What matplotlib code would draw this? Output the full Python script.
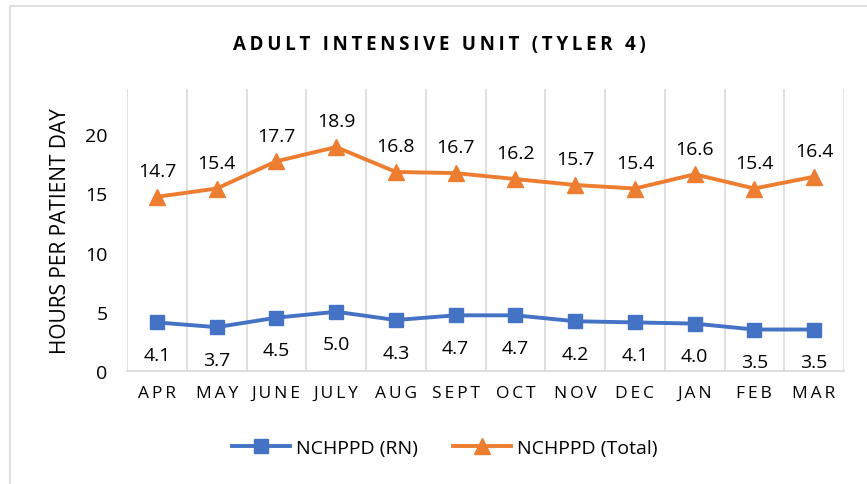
import matplotlib
matplotlib.use('Agg')
import matplotlib.pyplot as plt
from matplotlib.patches import Rectangle

# Data
months = ['APR', 'MAY', 'JUNE', 'JULY', 'AUG', 'SEPT', 'OCT', 'NOV', 'DEC', 'JAN', 'FEB', 'MAR']
rn = [4.1, 3.7, 4.5, 5.0, 4.3, 4.7, 4.7, 4.2, 4.1, 4.0, 3.5, 3.5]
total = [14.7, 15.4, 17.7, 18.9, 16.8, 16.7, 16.2, 15.7, 15.4, 16.6, 15.4, 16.4]

blue = '#4472C4'
orange = '#ED7D31'
grid_col = '#D9D9D9'

plt.rcParams['font.family'] = ['Open Sans', 'DejaVu Sans']


def spaced(s):
    return '\u2009'.join(s)


fig = plt.figure(figsize=(8.67, 4.85), dpi=100)
ax = fig.add_axes([127 / 867, 1 - 372 / 485, (844 - 127) / 867, (372 - 90) / 485])

# outer chart border
fig.patches.append(Rectangle((9.5 / 867, -0.1), 1.2, 1 - 7 / 485 + 0.1,
                             transform=fig.transFigure, fill=False,
                             edgecolor='#D9D9D9', linewidth=1.2))

x = list(range(len(months)))
ax.plot(x, rn, color=blue, linewidth=2.8, marker='s', markersize=10.5, label='NCHPPD (RN)', zorder=3)
ax.plot(x, total, color=orange, linewidth=2.8, marker='^', markersize=11, label='NCHPPD (Total)', zorder=3)

for i, v in enumerate(total):
    ax.annotate(f'{v:.1f}', (i, v), xytext=(0, 12), textcoords='offset points',
                ha='center', va='bottom', fontsize=14, color='black')
for i, v in enumerate(rn):
    ax.annotate(f'{v:.1f}', (i, v), xytext=(0, -17), textcoords='offset points',
                ha='center', va='top', fontsize=14, color='black')

ax.set_xlim(-0.5, len(months) - 0.5)
ax.set_ylim(0, 23.8)
ax.set_yticks([0, 5, 10, 15, 20])
ax.set_xticks(x)
ax.set_xticklabels([spaced(m) for m in months], fontsize=12.5)
ax.tick_params(axis='y', labelsize=14, length=0, pad=14)
ax.tick_params(axis='x', length=0, pad=10)

# vertical category separators
for b in [i - 0.5 for i in range(len(months) + 1)]:
    ax.axvline(b, color=grid_col, linewidth=1.2, zorder=0)

for s in ['top', 'right', 'left']:
    ax.spines[s].set_visible(False)
ax.spines['bottom'].set_color(grid_col)
ax.spines['bottom'].set_linewidth(1.2)

ax.set_ylabel('HOURS PER PATIENT DAY', fontsize=15, labelpad=10)

fig.text(0.507, 1 - 45 / 485, spaced('ADULT INTENSIVE UNIT (TYLER 4)'),
         ha='center', va='center', fontsize=13.5, fontweight='bold')

fig.legend(loc='center', bbox_to_anchor=(0.513, 1 - 449 / 485), ncol=2, frameon=False,
           fontsize=14, handlelength=3.0, handletextpad=0.3, columnspacing=1.8)

plt.savefig('out.png', dpi=100)
